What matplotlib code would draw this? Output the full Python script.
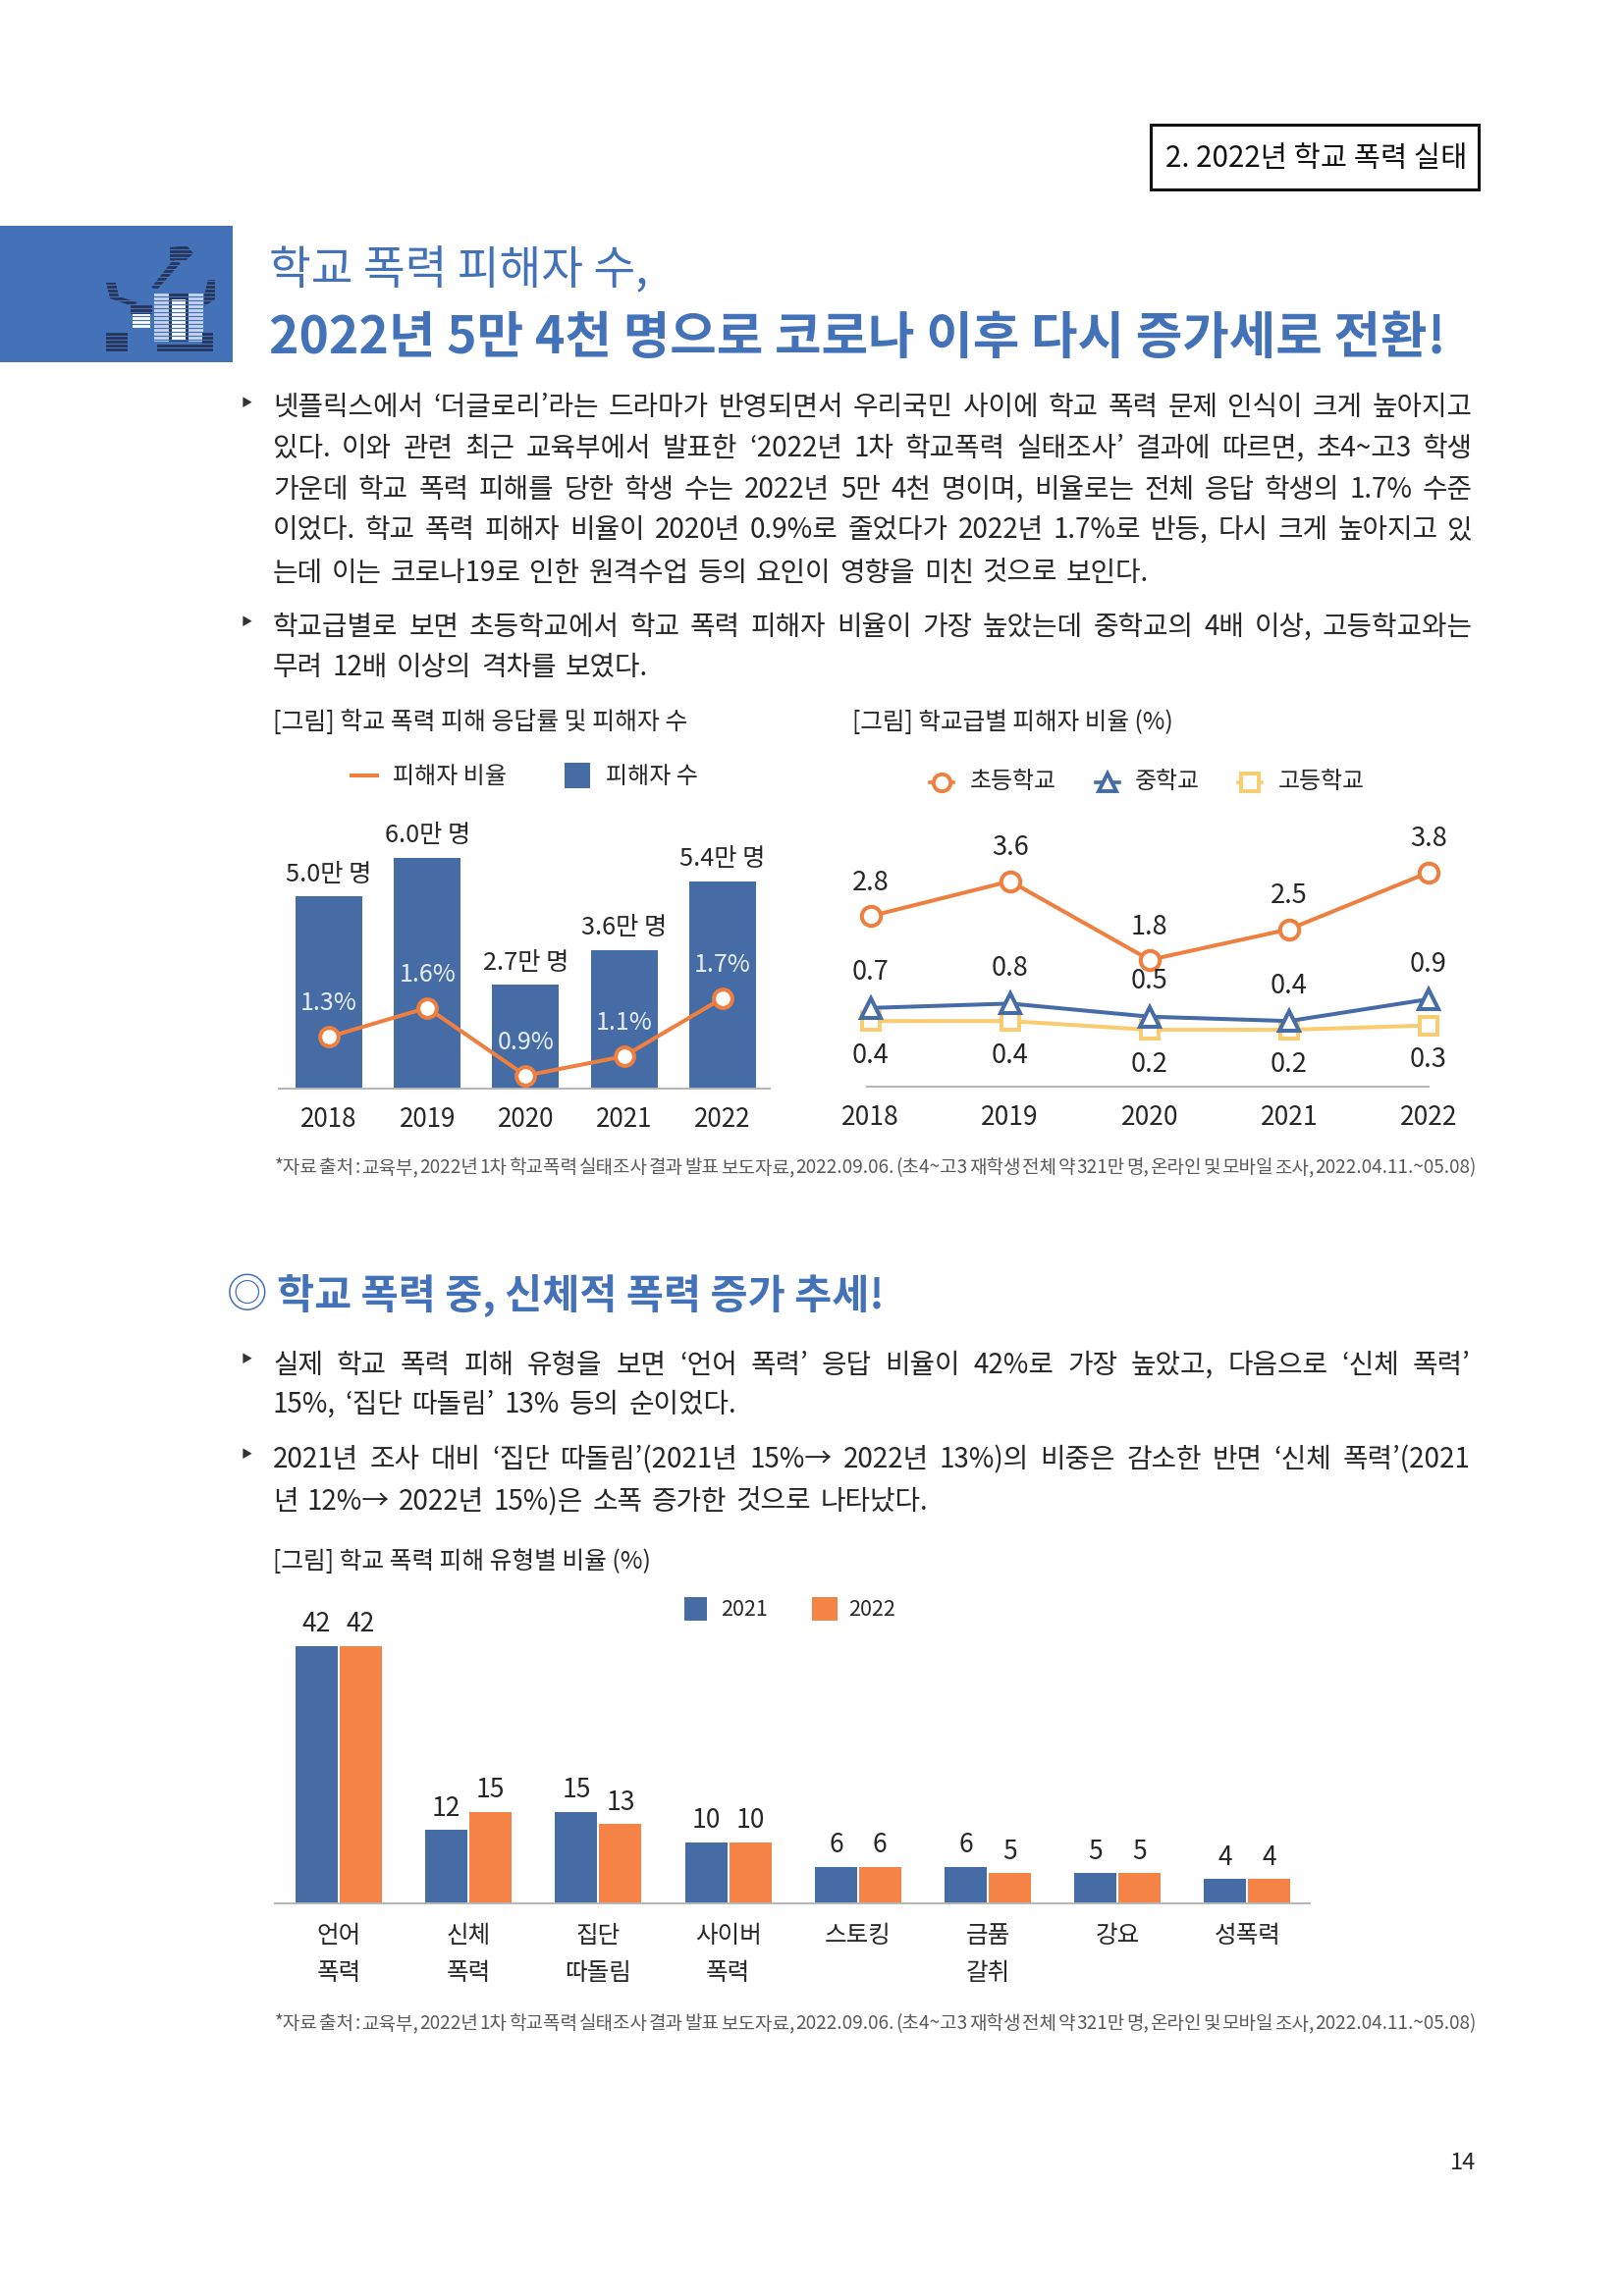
#!/usr/bin/env python3
import matplotlib
matplotlib.use("Agg")
import matplotlib.pyplot as plt
from matplotlib.patches import Rectangle, Polygon

plt.rcParams["font.family"] = ["Noto Sans CJK KR", "DejaVu Sans"]
W, H = 1653, 2339

# ── data
years = ["2018", "2019", "2020", "2021", "2022"]
victims = [5.0, 6.0, 2.7, 3.6, 5.4]
victim_rate = [1.3, 1.6, 0.9, 1.1, 1.7]
elementary = [2.8, 3.6, 1.8, 2.5, 3.8]
middle = [0.7, 0.8, 0.5, 0.4, 0.9]
high = [0.4, 0.4, 0.2, 0.2, 0.3]
types = ["언어\n폭력", "신체\n폭력", "집단\n따돌림", "사이버\n폭력", "스토킹", "금품\n갈취", "강요", "성폭력"]
type_2021 = [42, 12, 15, 10, 6, 6, 5, 4]
type_2022 = [42, 15, 13, 10, 6, 5, 5, 4]

C = dict(title="#4472B8", bar="#466CA6", org="#EF7F3F", org2="#F58345", yel="#F9CC72",
         ink="#262626", src="#595959", axis="#B5B5B5")
SOURCE = ("*자료 출처 : 교육부, 2022년 1차 학교폭력 실태조사 결과 발표 보도자료, 2022.09.06. "
          "(초4~고3 재학생 전체 약 321만 명, 온라인 및 모바일 조사, 2022.04.11.~05.08)")

fig = plt.figure(figsize=(W / 100, H / 100), dpi=100, facecolor="white")
bg = fig.add_axes([0, 0, 1, 1])
bg.set_xlim(0, W); bg.set_ylim(H, 0); bg.axis("off")
rend = fig.canvas.get_renderer()


def px_axes(x0, y0, x1, y1):
    ax = fig.add_axes([x0 / W, 1 - y1 / H, (x1 - x0) / W, (y1 - y0) / H])
    ax.patch.set_alpha(0)
    for s in ["top", "left", "right"]:
        ax.spines[s].set_visible(False)
    ax.spines["bottom"].set_color(C["axis"])
    ax.spines["bottom"].set_linewidth(1.4)
    ax.set_yticks([])
    return ax


def t(x, y, s, fs=17, c=None, w="light", ha="left", z=10):
    # y is the middle of the glyphs, in page pixels
    return bg.text(x, y + 0.36 * fs * 100 / 72, s, fontsize=fs, color=c or C["ink"],
                   fontweight=w, ha=ha, va="baseline", zorder=z)


def jline(s, y, x0, x1, fs=20, c=None, w="light"):
    # justified line: the gaps between words fill x0..x1
    words = s.split(" ")
    sizes = []
    for wd in words:
        tmp = bg.text(0, 0, wd, fontsize=fs, fontweight=w)
        sizes.append(tmp.get_window_extent(rend).width)
        tmp.remove()
    gap = (x1 - x0 - sum(sizes)) / max(len(words) - 1, 1)
    x = x0
    for wd, sz in zip(words, sizes):
        t(x, y, wd, fs=fs, c=c, w=w)
        x += sz + gap


# ── page header
bg.add_patch(Rectangle((1172, 127), 334, 66, fc="white", ec="#111111", lw=2.2))
t(1187, 159, "2. 2022년 학교 폭력 실태", fs=21.3, c="#111111", w="medium")
bg.add_patch(Rectangle((0, 230), 237, 139, fc=C["title"], ec="none"))

# icon in the blue block
D, L = "#27355A", "#C9D6EE"
bg.add_patch(Polygon([(173, 252), (190, 250), (197, 258), (190, 265), (173, 265)], fc=D, ec="none", zorder=2))
bg.add_patch(Polygon([(176, 265), (184, 268), (160, 295), (154, 293)], fc=D, ec="none", zorder=2))
bg.add_patch(Polygon([(108, 288), (118, 288), (121, 302), (140, 308), (135, 312), (112, 304)], fc=D, ec="none", zorder=2))
bg.add_patch(Polygon([(208, 300), (212, 285), (219, 285), (219, 305), (208, 312)], fc=D, ec="none", zorder=2))
bg.add_patch(Rectangle((157, 298), 50, 50, fc=L, ec="none", zorder=2))
bg.add_patch(Rectangle((172, 298), 20, 50, fc=D, ec="none", zorder=3))
bg.add_patch(Rectangle((175, 305), 14, 42, fc="white", ec="none", zorder=3))
bg.add_patch(Rectangle((133, 310), 22, 10, fc=D, ec="none", zorder=2))
bg.add_patch(Rectangle((135, 320), 18, 14, fc="white", ec="none", zorder=2))
bg.add_patch(Rectangle((108, 338), 22, 20, fc=D, ec="none", zorder=2))
bg.add_patch(Rectangle((160, 350), 57, 8, fc=D, ec="none", zorder=2))
bg.add_patch(Rectangle((206, 338), 11, 14, fc=D, ec="none", zorder=2))
for yy in range(250, 360, 4):
    bg.plot([105, 222], [yy, yy], color=C["title"], lw=0.9, zorder=4)

t(274, 272, "학교 폭력 피해자 수,", fs=33.5, c=C["title"])
t(274, 341, "2022년 5만 4천 명으로 코로나 이후 다시 증가세로 전환!", fs=37.2, c=C["title"], w="bold")

# ── body text
L0, R0 = 278, 1500
for s, y, x1 in [
    ("넷플릭스에서 ‘더글로리’라는 드라마가 반영되면서 우리국민 사이에 학교 폭력 문제 인식이 크게 높아지고", 413, R0),
    ("있다. 이와 관련 최근 교육부에서 발표한 ‘2022년 1차 학교폭력 실태조사’ 결과에 따르면, 초4~고3 학생", 455, R0),
    ("가운데 학교 폭력 피해를 당한 학생 수는 2022년 5만 4천 명이며, 비율로는 전체 응답 학생의 1.7% 수준", 497, R0),
    ("이었다. 학교 폭력 피해자 비율이 2020년 0.9%로 줄었다가 2022년 1.7%로 반등, 다시 크게 높아지고 있", 538, R0),
    ("는데 이는 코로나19로 인한 원격수업 등의 요인이 영향을 미친 것으로 보인다.", 582, 1170),
    ("학교급별로 보면 초등학교에서 학교 폭력 피해자 비율이 가장 높았는데 중학교의 4배 이상, 고등학교와는", 637, R0),
    ("무려 12배 이상의 격차를 보였다.", 678, 660),
    ("실제 학교 폭력 피해 유형을 보면 ‘언어 폭력’ 응답 비율이 42%로 가장 높았고, 다음으로 ‘신체 폭력’", 1389, 1497),
    ("15%, ‘집단 따돌림’ 13% 등의 순이었다.", 1429, 750),
    ("2021년 조사 대비 ‘집단 따돌림’(2021년 15%→ 2022년 13%)의 비중은 감소한 반면 ‘신체 폭력’(2021", 1485, 1497),
    ("년 12%→ 2022년 15%)은 소폭 증가한 것으로 나타났다.", 1528, 945),
]:
    jline(s, y, L0, x1)
for y in [410, 633, 1384, 1481]:
    t(251, y, "‣", fs=17, c="#333333", ha="center", w="bold")

# ── chart 1
t(278, 734, "[그림] 학교 폭력 피해 응답률 및 피해자 수", fs=17.9)
bg.plot([358, 384], [790, 790], color=C["org"], lw=2.9)
t(400, 789, "피해자 비율", fs=17.3)
bg.add_patch(Rectangle((575, 777), 25.5, 26, fc=C["bar"], ec="none"))
t(617, 789, "피해자 수", fs=17.3)

ax1 = px_axes(283.7, 800, 784, 1109.3)
ax1.set_xlim(-0.512, 4.481)
ax1.set_ylim(0, 7.89)
ax1.bar(range(len(years)), victims, width=0.68, color=C["bar"])
ax1.set_xticks(range(len(years)), years, fontsize=18.7, color=C["ink"])
ax1.tick_params(axis="x", length=0, pad=12.5)
for i, v in enumerate(victims):
    ax1.annotate(f"{v:.1f}만 명", (i, v), xytext=(0, 18.5), textcoords="offset points",
                 ha="center", va="center_baseline", fontsize=18.2, color=C["ink"], fontweight="light")

ax1b = ax1.twinx()
ax1b.patch.set_alpha(0)
for s in ax1b.spines.values():
    s.set_visible(False)
ax1b.set_yticks([])
ax1b.set_ylim(0.763, 3.897)
ax1b.plot(range(len(years)), victim_rate, color=C["org"], lw=2.9, marker="o", ms=13.5,
          mfc="white", mec=C["org"], mew=2.9)
for i, v in enumerate(victim_rate):
    ax1b.annotate(f"{v:.1f}%", (i, v), xytext=(0, 26.6), textcoords="offset points",
                  ha="center", va="center_baseline", fontsize=18, color="#E8EEF8", fontweight="light")

# ── chart 2
t(868, 734, "[그림] 학교급별 피해자 비율 (%)", fs=17.7)
for mx, tx, mk, col, lab in [
    (959, 988, "o", C["org"], "초등학교"),
    (1128, 1156, "^", C["bar"], "중학교"),
    (1273, 1302, "s", C["yel"], "고등학교"),
]:
    bg.plot([mx - 12, mx + 12], [797, 797], color=col, lw=2.6, zorder=1)
    bg.plot([mx], [797], marker=mk, ms=12.5, mfc="white", mec=col, mew=2.8, ls="none", zorder=2)
    t(tx, 794, lab, fs=17.2)

ax2 = px_axes(883.5, 830, 1455, 1106.7)
ax2.set_xlim(-0.022, 4.0)
ax2.set_ylim(-1.094, 5.12)
xs = range(len(years))
ax2.plot(xs, high, color=C["yel"], lw=2.9, marker="s", ms=13.5, mfc="white", mec=C["yel"], mew=2.9, clip_on=False)
ax2.plot(xs, middle, color=C["bar"], lw=2.9, marker="^", ms=14, mfc="white", mec=C["bar"], mew=2.9, clip_on=False)
ax2.plot(xs, elementary, color=C["org"], lw=2.9, marker="o", ms=14, mfc="white", mec=C["org"], mew=2.9, clip_on=False)
ax2.set_xticks(list(xs), years, fontsize=19, color=C["ink"])
ax2.tick_params(axis="x", length=0, pad=13)
for i in xs:
    ax2.annotate(f"{elementary[i]}", (i, elementary[i]), xytext=(0, 26.5), textcoords="offset points",
                 ha="center", va="center_baseline", fontsize=19.5, color=C["ink"], fontweight="light")
    ax2.annotate(f"{middle[i]}", (i, middle[i]), xytext=(0, 28), textcoords="offset points",
                 ha="center", va="center_baseline", fontsize=19.5, color=C["ink"], fontweight="light")
    ax2.annotate(f"{high[i]}", (i, high[i]), xytext=(0, -23), textcoords="offset points",
                 ha="center", va="center_baseline", fontsize=19.5, color=C["ink"], fontweight="light")

jline(SOURCE, 1188, 280, 1504, fs=13.7, c=C["src"])

# ── second section
t(252, 1317, "◎", fs=30, c=C["title"], ha="center", w="regular")
t(282, 1318, "학교 폭력 중, 신체적 폭력 증가 추세!", fs=29.8, c=C["title"], w="bold")

# ── chart 3
t(278, 1589, "[그림] 학교 폭력 피해 유형별 비율 (%)", fs=17.8)
bg.add_patch(Rectangle((697, 1627), 23, 24, fc=C["bar"], ec="none"))
t(734, 1638, "2021", fs=15.5)
bg.add_patch(Rectangle((827, 1627), 26, 24, fc=C["org2"], ec="none"))
t(864, 1638, "2022", fs=15.5)

ax3 = px_axes(280, 1640, 1334, 1939.3)
ax3.set_xlim(-0.492, 7.481)
ax3.set_ylim(0, 47.9)
gx = list(range(len(types)))
ax3.bar([g - 0.17 for g in gx], type_2021, width=0.325, color=C["bar"])
ax3.bar([g + 0.17 for g in gx], type_2022, width=0.325, color=C["org2"])
ax3.set_xticks(gx, types, fontsize=17.7, color=C["ink"], fontweight="light", linespacing=1.6)
ax3.tick_params(axis="x", length=0, pad=14)
for g in gx:
    for dx, v in [(-0.17, type_2021[g]), (0.17, type_2022[g])]:
        ax3.annotate(f"{v}", (g + dx, v), xytext=(0, 18), textcoords="offset points",
                     ha="center", va="center_baseline", fontsize=19, color=C["ink"], fontweight="light")

jline(SOURCE, 2060, 280, 1504, fs=13.7, c=C["src"])
t(1490, 2202, "14", fs=17, ha="center")

fig.savefig("out.png", dpi=100, facecolor="white")
